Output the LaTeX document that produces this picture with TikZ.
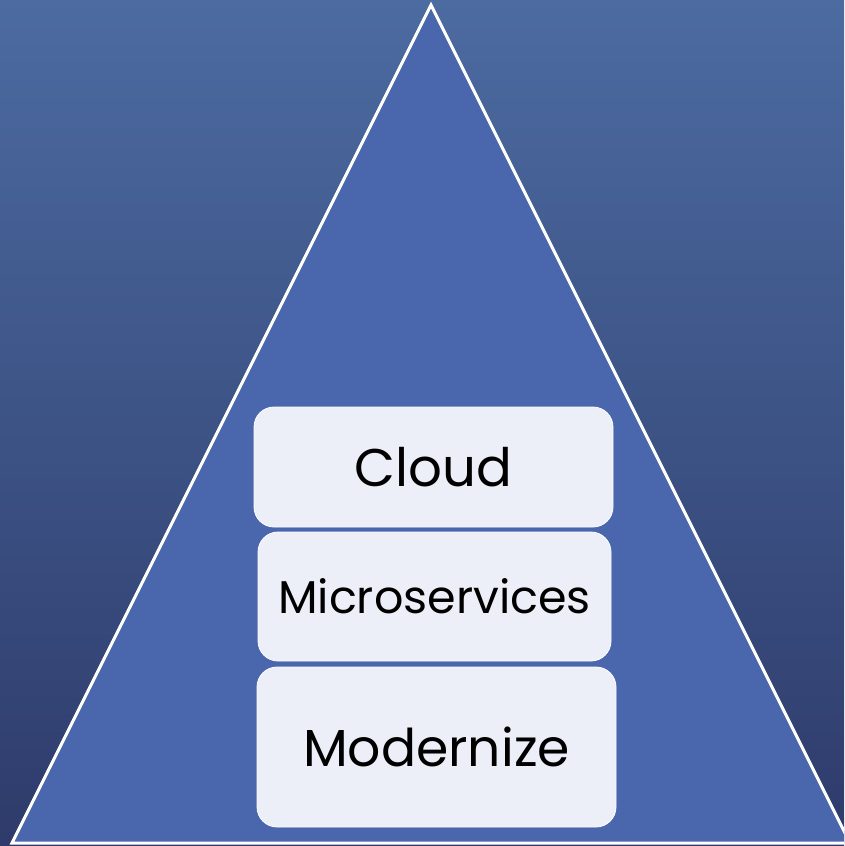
\documentclass[tikz,border=0pt]{standalone}
\usepackage{fontspec}
\setmainfont{Poppins}
\definecolor{bgtop}{HTML}{4C6BA1}
\definecolor{bgbot}{HTML}{2E3B6B}
\definecolor{trifill}{HTML}{4A67AE}
\definecolor{boxfill}{HTML}{ECEFF7}
\tikzset{
  layerbox/.style={draw=white!90!boxfill, line width=0.8pt, fill=boxfill, rounded corners=20pt,
    inner sep=0pt, text=black}
}
\begin{document}
\begin{tikzpicture}[x=1pt,y=-1pt]
\useasboundingbox (0,0) rectangle (844,846);
\shade[top color=bgtop, bottom color=bgbot] (0,0) rectangle (844,846);
\begin{scope}
\clip (0,0) rectangle (844,846);
\draw[white, line width=3pt, fill=trifill, line join=miter] (431,5) -- (12,843) -- (850,843) -- cycle;
\end{scope}
\node[layerbox, minimum width=359pt, minimum height=120pt, font=\fontsize{53}{60}\selectfont] (cloud) at (433.5,467) {Cloud};
\node[layerbox, minimum width=353pt, minimum height=129pt, font=\fontsize{46}{52}\selectfont] (micro) at (434.5,596.5) {Microservices};
\node[layerbox, minimum width=359pt, minimum height=160pt, font=\fontsize{52}{58}\selectfont] (modern) at (436.5,747) {Modernize};
\end{tikzpicture}
\end{document}
